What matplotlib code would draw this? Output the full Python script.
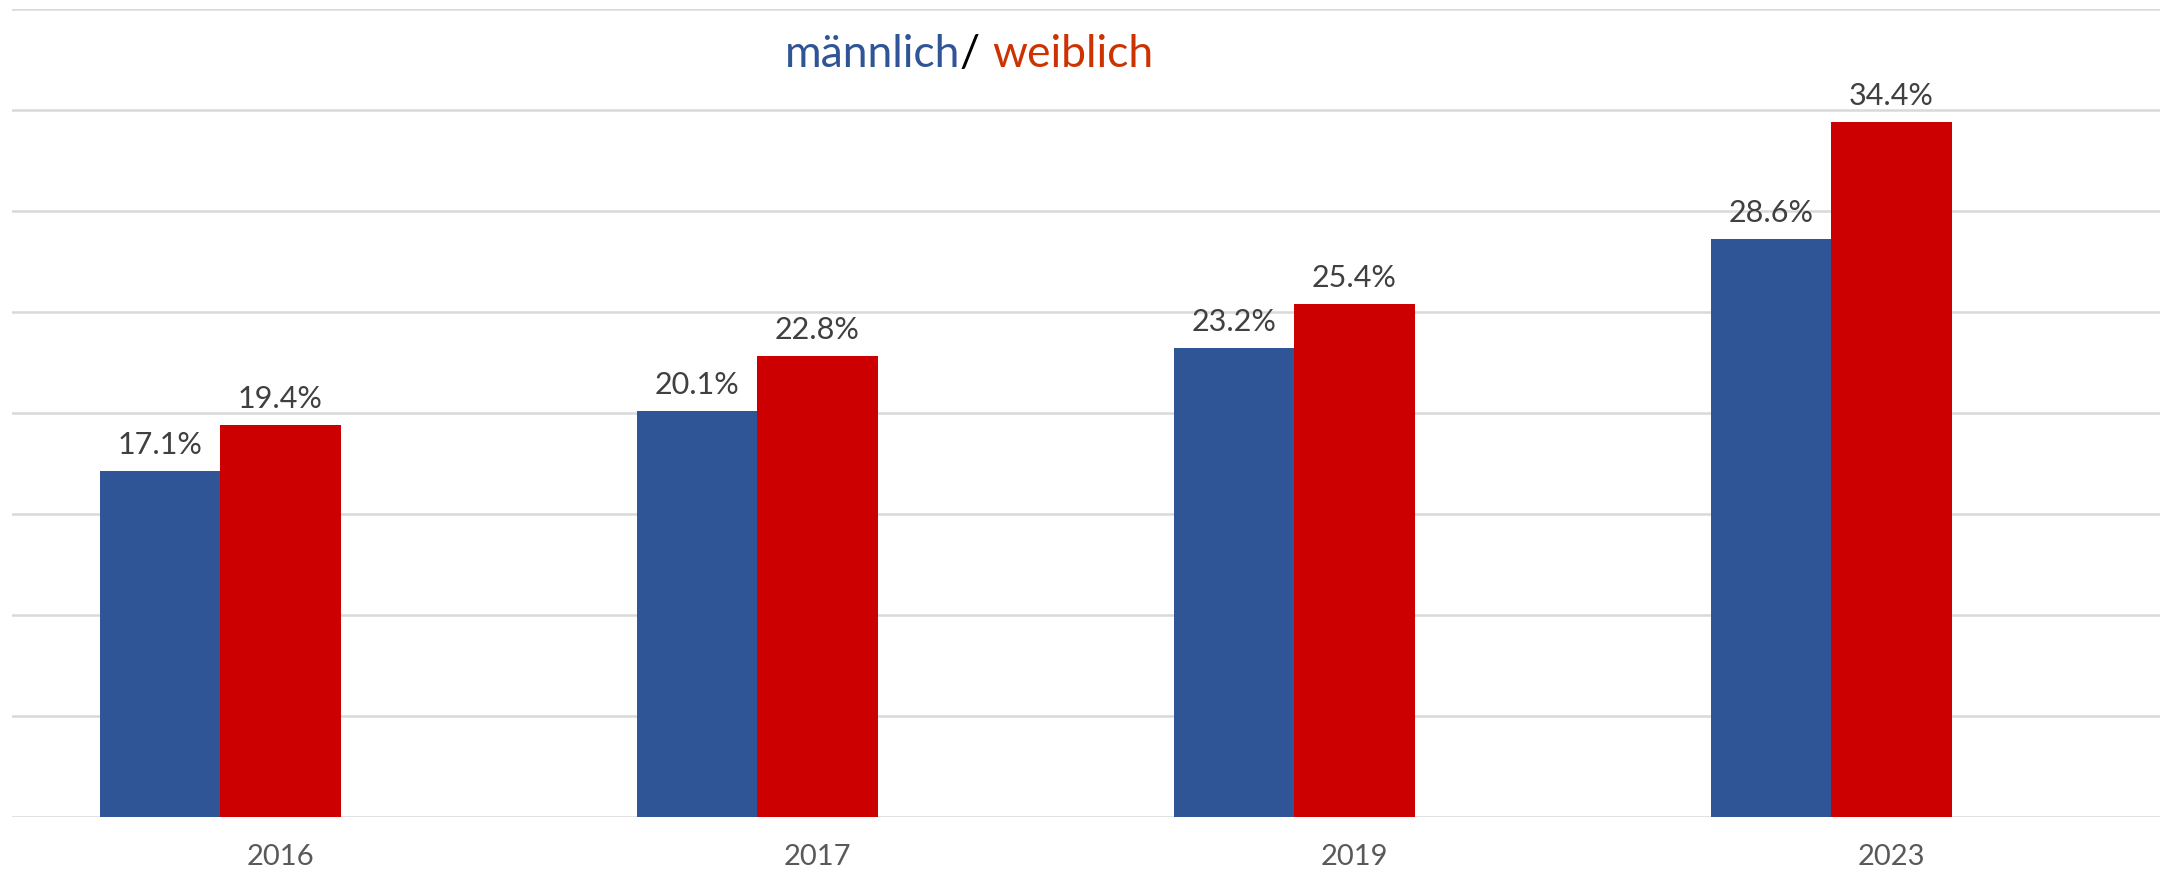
import matplotlib
matplotlib.use("Agg")
import matplotlib.pyplot as plt
import numpy as np

years = ["2016", "2017", "2019", "2023"]
maennlich = [17.1, 20.1, 23.2, 28.6]
weiblich = [19.4, 22.8, 25.4, 34.4]

plt.rcParams['font.family'] = ['Lato', 'DejaVu Sans']

W, H = 2163, 873
fig = plt.figure(figsize=(W / 100, H / 100), dpi=100)
ax = fig.add_axes([12 / W, (H - 816.7) / H, (2160 - 12) / W, (816.7 - 9) / H])

x = np.arange(len(years))
bw = 0.2235
blue = "#2F5597"
red = "#CC0000"
b1 = ax.bar(x - bw, maennlich, width=bw, color=blue, zorder=3)
b2 = ax.bar(x, weiblich, width=bw, color=red, zorder=3)

for bars, vals in ((b1, maennlich), (b2, weiblich)):
    for rect, v in zip(bars, vals):
        ax.annotate(f"{v:.1f}%", (rect.get_x() + rect.get_width() / 2, v),
                    xytext=(0, 12), textcoords="offset pixels",
                    ha="center", va="bottom", fontsize=22, color="#404040")

ax.set_xlim(-0.5, len(years) - 0.5)
ax.set_ylim(0, 40)
ax.set_yticks(np.arange(0, 41, 5))
ax.set_yticklabels([])
ax.yaxis.grid(True, color="#D9D9D9", linewidth=1.8, zorder=0)
ax.tick_params(axis="y", length=0)
ax.set_xticks(x)
ax.set_xticklabels(years, fontsize=21, color="#595959")
ax.tick_params(axis="x", length=0, pad=20)
for s in ax.spines.values():
    s.set_visible(False)

# Title with mixed colours
fig.canvas.draw()
r = fig.canvas.get_renderer()
fs = 32
parts = [("männlich", blue), ("/ ", "black"), ("weiblich", "#CC3300")]
texts = []
for s, c in parts:
    t = fig.text(0, 0, s, fontsize=fs, color=c, ha="left", va="baseline")
    texts.append(t)
widths = []
for t in texts:
    bb = t.get_window_extent(renderer=r)
    widths.append(bb.width)
total = sum(widths)
cx = 969
start = cx - total / 2
for t, w in zip(texts, widths):
    t.set_position((start / W, (H - 67) / H))
    start += w

fig.savefig("out.png", dpi=100, facecolor="white")
